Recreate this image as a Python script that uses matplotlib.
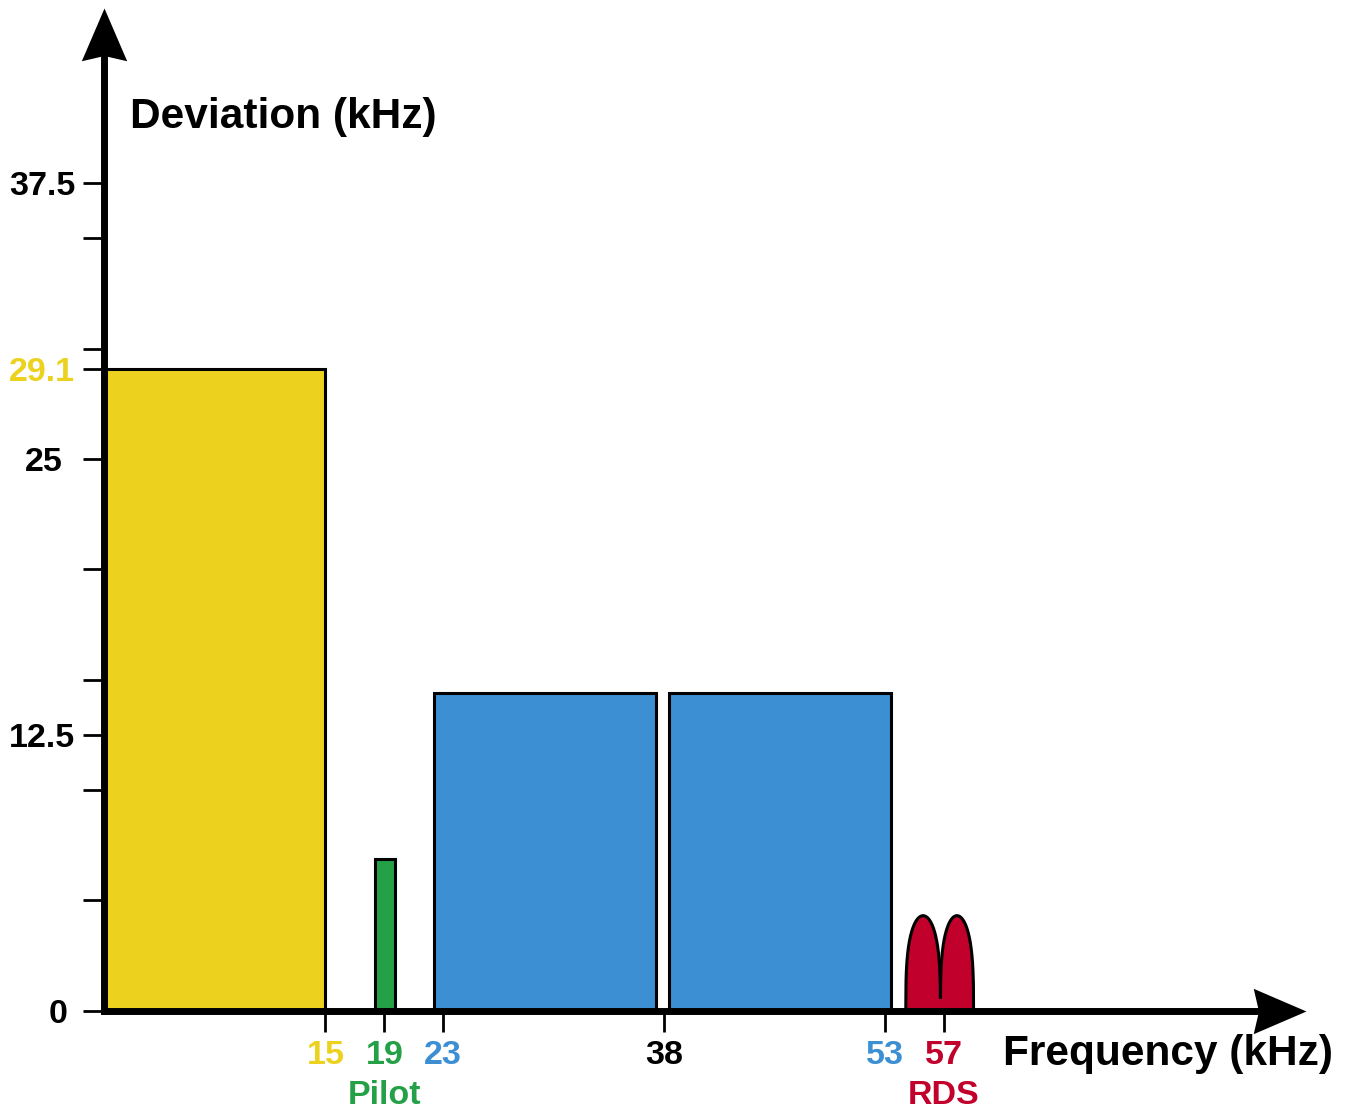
import numpy as np
import matplotlib
matplotlib.use("Agg")
import matplotlib.pyplot as plt
from matplotlib.path import Path
from matplotlib.transforms import ScaledTranslation

plt.rcParams['font.family'] = ['Liberation Sans', 'DejaVu Sans']
plt.rcParams['font.weight'] = 'bold'

# spectrum blocks (kHz edges, deviation kHz)
block_left = [0, 18.35, 22.4, 38.35]
block_right = [15, 19.75, 37.45, 53.4]
block_height = [29.1, 6.87, 14.4, 14.4]
block_color = ['#ECD21E', '#24A046', '#3B8FD2', '#3B8FD2']

# RDS double hump
rds_left = [54.4, 56.75]
rds_right = [56.75, 59.0]
rds_height = 4.3
rds_color = '#C1002B'

xticks = [15, 19, 23, 38, 53, 57]
xlabels = ['15', '19\nPilot', '23', '38', '53', '57\nRDS']
xlabel_colors = ['#ECD21E', '#24A046', '#3B8FD2', 'black', '#3B8FD2', rds_color]

yticks = [0, 12.5, 25, 29.1, 37.5]
ylabels = ['0', '12.5', '25', '29.1', '37.5']
ylabel_colors = ['black', 'black', 'black', '#ECD21E', 'black']
yminor = [5, 10, 15, 20, 30, 35]

fig = plt.figure(figsize=(13.49, 11.10), dpi=100)
ax = fig.add_axes([0, 0, 1, 1])
ax.set_xlim(-7.094, 84.49)
ax.set_ylim(-4.51, 45.81)
ax.patch.set_alpha(0)

# bars
widths = np.array(block_right) - np.array(block_left)
ax.bar(block_left, block_height, width=widths, align='edge', color=block_color,
       edgecolor='black', linewidth=2.2, zorder=2)

# RDS humps
for a, b in zip(rds_left, rds_right):
    xs = np.linspace(a, b, 300)
    u = (xs - (a + b) / 2) / ((b - a) / 2)
    ys = rds_height * np.clip(1 - u ** 2, 0, None) ** 0.32
    ax.fill_between(xs, 0, ys, color=rds_color, linewidth=0, zorder=2)
    ax.plot(xs, ys, color='black', lw=2.2, zorder=2.2, solid_capstyle='butt')
# keep the touching sides off the base line
ax.plot([rds_right[0]] * 2, [0, 0.45], color=rds_color, lw=3, zorder=2.3)

# axes lines
for s in ['top', 'right']:
    ax.spines[s].set_visible(False)
ax.spines['left'].set_position(('data', 0))
ax.spines['bottom'].set_position(('data', 0))
ax.spines['left'].set_bounds(0, 43.5)
ax.spines['bottom'].set_bounds(0, 78.6)
for s in ['left', 'bottom']:
    ax.spines[s].set_linewidth(5)
    ax.spines[s].set_zorder(3)

# arrow heads
up = Path([(0, 0), (-0.43, -1.0), (0, -0.9), (0.43, -1.0), (0, 0)],
          [Path.MOVETO, Path.LINETO, Path.LINETO, Path.LINETO, Path.CLOSEPOLY])
right = Path([(0, 0), (-1.0, 0.43), (-0.9, 0), (-1.0, -0.43), (0, 0)],
             [Path.MOVETO, Path.LINETO, Path.LINETO, Path.LINETO, Path.CLOSEPOLY])
ax.plot([0], [45.44], marker=up, markersize=76, color='black', mew=0, zorder=4, clip_on=False)
ax.plot([81.57], [0], marker=right, markersize=76, color='black', mew=0, zorder=4, clip_on=False)

# ticks
ax.set_xticks(xticks, labels=xlabels)
ax.set_xticks([], minor=True)
ax.set_yticks(yticks, labels=ylabels)
ax.set_yticks(yminor, minor=True)
ax.tick_params(axis='both', which='both', direction='out', length=15, width=2, labelsize=24.5)
ax.tick_params(axis='y', pad=6)
ax.tick_params(axis='x', pad=6)
for lab, c in zip(ax.get_xticklabels(), xlabel_colors):
    lab.set_color(c)
    lab.set_fontweight('bold')
    lab.set_linespacing(1.4)
for lab, c in zip(ax.get_yticklabels(), ylabel_colors):
    lab.set_color(c)
    lab.set_fontweight('bold')
for t, c in zip(ax.yaxis.get_major_ticks(), ylabel_colors):
    t.tick1line.set_color(c)

# the reference nudges a couple of y labels to the left
shift = {'0': -8, '25': -13}
for t in ax.yaxis.get_major_ticks():
    txt = t.label1.get_text()
    if txt in shift:
        t.label1.set_transform(t.label1.get_transform()
                               + ScaledTranslation(shift[txt] / 100, 0, fig.dpi_scale_trans))

ax.text(1.73, 40.5, 'Deviation (kHz)', fontsize=30.5, fontweight='bold', ha='left', va='center')
ax.text(61.0, -1.98, 'Frequency (kHz)', fontsize=30.5, fontweight='bold', ha='left', va='center')

fig.savefig('out.png', dpi=100)
